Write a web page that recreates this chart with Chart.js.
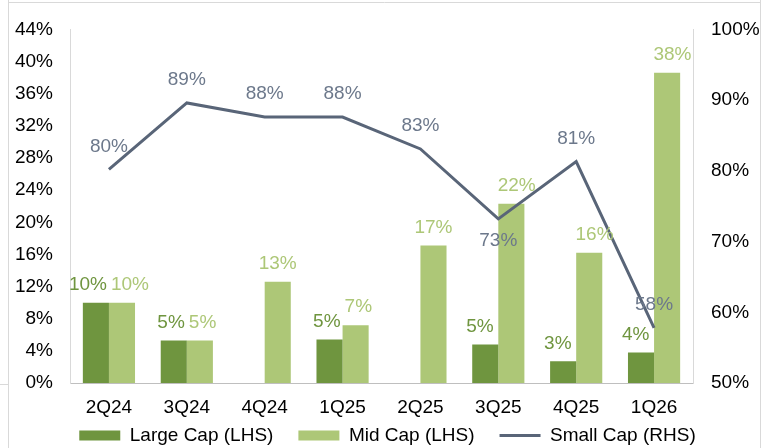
<!DOCTYPE html>
<html>
<head>
<meta charset="utf-8">
<script src="https://cdn.jsdelivr.net/npm/chart.js@4.4.1/dist/chart.umd.min.js"></script>
<style>
  html, body { margin: 0; padding: 0; background: #fff; overflow: hidden; }
  #wrap { width: 775px; height: 448px; position: relative; }
</style>
</head>
<body>
<div id="wrap"><canvas id="chart" width="775" height="448"></canvas></div>
<script>
// ── DATA ─────────────────────────────────────────────────────────
const quarters = ['2Q24','3Q24','4Q24','1Q25','2Q25','3Q25','4Q25','1Q26'];
const largeCap = [10.0, 5.3, null, 5.4, null, 4.8, 2.7, 3.8];   // % LHS
const midCap   = [10.0, 5.3, 12.6, 7.2, 17.1, 22.3, 16.2, 38.6]; // % LHS
const smallCap = [80.2, 89.6, 87.6, 87.6, 83.1, 73.2, 81.3, 57.8]; // % RHS
const largeLbl = ['10%','5%',null,'5%',null,'5%','3%','4%'];
const midLbl   = ['10%','5%','13%','7%','17%','22%','16%','38%'];
const smallLbl = ['80%','89%','88%','88%','83%','73%','81%','58%'];
const lhsTicks = [0,4,8,12,16,20,24,28,32,36,40,44];
const rhsTicks = [50,60,70,80,90,100];

const C_LARGE = '#6f953f', C_MID = '#adc777', C_SMALL = '#596578', C_SMALL_TXT = '#6c788b';
const FONT = 'Liberation Sans, Arial, sans-serif';
const FS = 19;

// frame round the picture
const framePlugin = {
  id: 'frame',
  afterDraw(chart) {
    const c = chart.ctx;
    c.save();
    c.strokeStyle = '#d9d9d9'; c.lineWidth = 1;
    c.beginPath();
    c.moveTo(8.5, 0); c.lineTo(8.5, 448);
    c.moveTo(760.5, 0); c.lineTo(760.5, 448);
    c.moveTo(8, 2.5); c.lineTo(761, 2.5);
    c.moveTo(0, 384.5); c.lineTo(8, 384.5);
    c.stroke();
    c.restore();
  }
};

// keep the legend short so the plot reaches down to the x labels,
// and let the x labels spill out of their (thin) scale box
const layoutPlugin = {
  id: 'layoutFix',
  beforeLayout(chart) {
    const lg = chart.legend;
    if (lg && !lg._fixed) {
      const f = lg.fit;
      lg.fit = function () { f.call(this); this.height = 47; };
      lg._fixed = true;
    }
  },
  beforeDraw(chart) {
    const x = chart.scales.x;
    if (x) x._computeLabelArea = () => undefined;
  }
};

// value labels
const labelPlugin = {
  id: 'vlabels',
  afterDatasetsDraw(chart) {
    const c = chart.ctx;
    c.save();
    c.font = FS + 'px ' + FONT;
    c.textAlign = 'center'; c.textBaseline = 'middle';
    const mL = chart.getDatasetMeta(0), mM = chart.getDatasetMeta(1), mS = chart.getDatasetMeta(2);
    quarters.forEach((q, i) => {
      let a = null, b = null;
      if (largeLbl[i] && mL.data[i]) a = { t: largeLbl[i], x: mL.data[i].x, y: mL.data[i].y - 18, col: C_LARGE };
      if (midLbl[i] && mM.data[i])   b = { t: midLbl[i],   x: mM.data[i].x, y: mM.data[i].y - 18, col: C_MID };
      if (a && b) {
        const wa = c.measureText(a.t).width, wb = c.measureText(b.t).width;
        const ov = (a.x + wa / 2 + 4) - (b.x - wb / 2);
        if (ov > 0) { a.x -= ov / 2; b.x += ov / 2; }
      }
      [a, b].forEach(l => { if (l) { c.fillStyle = l.col; c.fillText(l.t, l.x, l.y); } });
      const p = mS.data[i];
      c.fillStyle = C_SMALL_TXT;
      const dy = (i === 5) ? 22 : -23;
      c.fillText(smallLbl[i], p.x, p.y + dy);
    });
    c.restore();
  }
};

new Chart(document.getElementById('chart'), {
  type: 'bar',
  data: {
    labels: quarters,
    datasets: [
      { label: 'Large Cap (LHS)', data: largeCap, backgroundColor: C_LARGE, yAxisID: 'y', order: 1,
        categoryPercentage: 0.67, barPercentage: 1 },
      { label: 'Mid Cap (LHS)', data: midCap, backgroundColor: C_MID, yAxisID: 'y', order: 1,
        categoryPercentage: 0.67, barPercentage: 1 },
      { type: 'line', label: 'Small Cap (RHS)', data: smallCap, borderColor: C_SMALL, backgroundColor: C_SMALL,
        borderWidth: 3, pointRadius: 0, tension: 0, yAxisID: 'y1', order: 0 }
    ]
  },
  options: {
    responsive: false, animation: false,
    layout: { padding: { top: 27, left: 0, right: 0, bottom: 0 } },
    plugins: {
      tooltip: { enabled: false },
      legend: {
        position: 'bottom',
        labels: {
          usePointStyle: true, pointStyleWidth: 41, boxHeight: 10,
          color: '#000', font: { family: FONT, size: FS }, padding: 25,
          sort: (a, b) => a.datasetIndex - b.datasetIndex,
          generateLabels(chart) {
            const items = Chart.defaults.plugins.legend.labels.generateLabels(chart);
            items.forEach(it => {
              if (it.datasetIndex === 2) { it.pointStyle = 'line'; it.lineWidth = 3; it.strokeStyle = C_SMALL; }
              else { it.pointStyle = 'rect'; it.lineWidth = 0; }
            });
            return items;
          }
        }
      }
    },
    scales: {
      x: {
        grid: { display: false, drawTicks: false },
        border: { color: '#bfbfbf' },
        ticks: { color: '#000', font: { family: FONT, size: FS }, padding: 13, maxRotation: 0, autoSkip: false },
        afterFit: s => { s.height = 18; }
      },
      y: {
        position: 'left', min: 0, max: 44,
        afterBuildTicks: s => { s.ticks = lhsTicks.map(v => ({ value: v })); },
        grid: { display: false, drawTicks: false },
        border: { color: '#d9d9d9' },
        ticks: { color: '#000', font: { family: FONT, size: FS }, padding: 17, callback: v => v + '%' },
        afterFit: s => { s.width = 70; }
      },
      y1: {
        position: 'right', min: 50, max: 100,
        afterBuildTicks: s => { s.ticks = rhsTicks.map(v => ({ value: v })); },
        grid: { display: false, drawTicks: false },
        border: { color: '#d9d9d9' },
        ticks: { color: '#000', font: { family: FONT, size: FS }, padding: 18, callback: v => v + '%' },
        afterFit: s => { s.width = 82; }
      }
    }
  },
  plugins: [layoutPlugin, labelPlugin, framePlugin]
});
</script>
</body>
</html>
